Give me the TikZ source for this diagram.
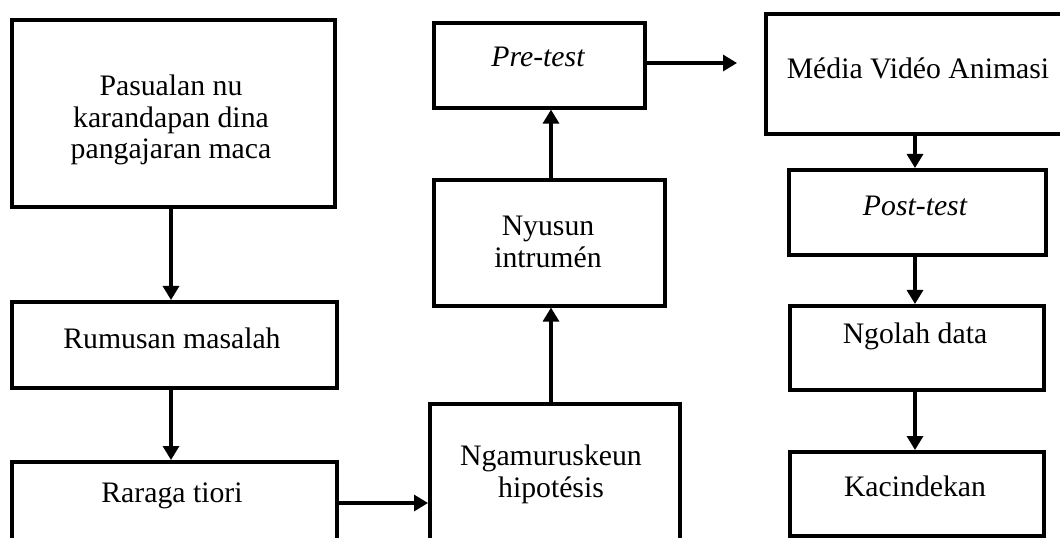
\documentclass[tikz,border=0pt]{standalone}
\usepackage{fontspec}
\setmainfont{Liberation Serif}
\usetikzlibrary{arrows.meta}
\begin{document}
\begin{tikzpicture}[x=0.75pt,y=-0.75pt,
  box/.style={draw=black,line width=2.7pt,inner sep=0pt,anchor=north west},
  lbl/.style={font=\fontsize{22.3}{23.8}\selectfont,align=center,inner sep=0pt},
  arr/.style={line width=2.4pt,-{Triangle[length=10.5pt,width=12pt]}}]
\clip (0,0) rectangle (1060,538);
\fill[white] (0,0) rectangle (1060,538);
% boxes (north west corner, width, height in px)
\node[box,minimum width=0.75*323pt,minimum height=0.75*187pt] (A) at (10,18) {};
\node[box,minimum width=0.75*325pt,minimum height=0.75*86pt] (B) at (10,300) {};
\node[box,minimum width=0.75*325pt,minimum height=0.75*150pt] (C) at (10,460) {};
\node[box,minimum width=0.75*250pt,minimum height=0.75*200pt] (D) at (428,402) {};
\node[box,minimum width=0.75*231pt,minimum height=0.75*126pt] (E) at (432,178) {};
\node[box,minimum width=0.75*211pt,minimum height=0.75*85pt] (F) at (432,21) {};
\node[box,minimum width=0.75*310pt,minimum height=0.75*120pt] (G) at (764,12) {};
\node[box,minimum width=0.75*257pt,minimum height=0.75*85pt] (H) at (787,168) {};
\node[box,minimum width=0.75*254pt,minimum height=0.75*84pt] (I) at (788,304) {};
\node[box,minimum width=0.75*254pt,minimum height=0.75*84pt] (J) at (788,450) {};
% labels
\node[lbl] (tA) at (171,120) {Pasualan nu\\karandapan dina\\pangajaran maca};
\node[lbl] (tB) at (172,338) {Rumusan masalah};
\node[lbl] (tC) at (172,496) {Raraga tiori};
\node[lbl] (tD) at (551,474) {Ngamuruskeun\\hipotésis};
\node[lbl] (tE) at (548,242) {Nyusun\\intrumén};
\node[lbl] (tF) at (538,57) {\itshape Pre-test};
\node[lbl] (tG) at (918,68) {Média Vidéo Animasi};
\node[lbl] (tH) at (915,206) {\itshape Post-test};
\node[lbl] (tI) at (915,336) {Ngolah data};
\node[lbl] (tJ) at (915,486) {Kacindekan};
% connectors
\draw[arr] (A.south -| 171,0) -- (B.north -| 171,0);
\draw[arr] (B.south -| 171,0) -- (C.north -| 171,0);
\draw[arr] (C.east |- 0,503) -- (D.west |- 0,503);
\draw[arr] (D.north -| 551,0) -- (E.south -| 551,0);
\draw[arr] (E.north -| 551,0) -- (F.south -| 551,0);
\draw[arr,shorten >=27*0.75pt] (F.east |- 0,63) -- (G.west |- 0,63);
\draw[arr] (G.south -| 915,0) -- (H.north -| 915,0);
\draw[arr] (H.south -| 915,0) -- (I.north -| 915,0);
\draw[arr] (I.south -| 915,0) -- (J.north -| 915,0);
\end{tikzpicture}
\end{document}
